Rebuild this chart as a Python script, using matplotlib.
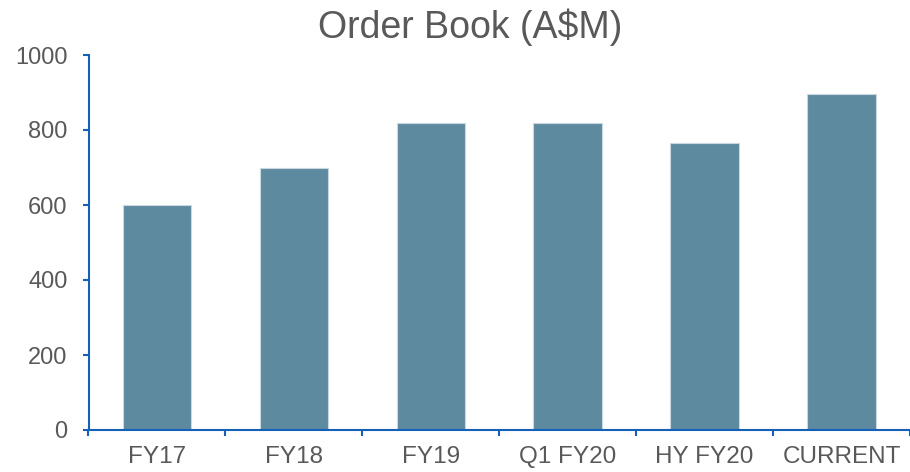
import matplotlib
matplotlib.use("Agg")
from matplotlib import pyplot as plt

categories = ["FY17", "FY18", "FY19", "Q1 FY20", "HY FY20", "CURRENT"]
order_book = [600, 700, 820, 818, 765, 895]
y_ticks = [0, 200, 400, 600, 800, 1000]

BAR_COLOR = "#5E8AA0"
AXIS_COLOR = "#1560B8"
TEXT_COLOR = "#595959"

plt.rcParams["font.family"] = ["Liberation Sans", "DejaVu Sans"]

W, H = 910, 472
fig = plt.figure(figsize=(W / 100, H / 100), dpi=100)
left, right, top, bottom = 88.5, 910, 55, 430
ax = fig.add_axes([left / W, 1 - bottom / H, (right - left) / W, (bottom - top) / H])

x = list(range(len(categories)))
ax.bar(x, order_book, width=0.5, color=BAR_COLOR, edgecolor="#C9D8E0", linewidth=0.8)

step = 137.7
ax.set_xlim(-0.5, -0.5 + (right - left) / step)
ax.set_ylim(0, 1000)
ax.set_yticks(y_ticks)

# category labels centred, tick marks on the boundaries
ax.set_xticks(x)
ax.set_xticklabels(categories)
ax.set_xticks([i - 0.5 for i in range(len(categories) + 1)], minor=True)
ax.tick_params(axis="x", which="major", length=0, pad=11.5, labelsize=17.5, labelcolor=TEXT_COLOR)
ax.tick_params(axis="x", which="minor", length=4.5, width=1.5, color=AXIS_COLOR, direction="out")
ax.tick_params(axis="y", length=4.5, width=1.5, color=AXIS_COLOR, pad=10.5, labelsize=17, labelcolor=TEXT_COLOR)

for side in ["top", "right"]:
    ax.spines[side].set_visible(False)
for side in ["left", "bottom"]:
    ax.spines[side].set_color(AXIS_COLOR)
    ax.spines[side].set_linewidth(1.5)

fig.text(470 / W, 1 - 38 / H, "Order Book (A$M)", ha="center", va="baseline",
         fontsize=27, color=TEXT_COLOR)

fig.savefig("out.png", dpi=100)
